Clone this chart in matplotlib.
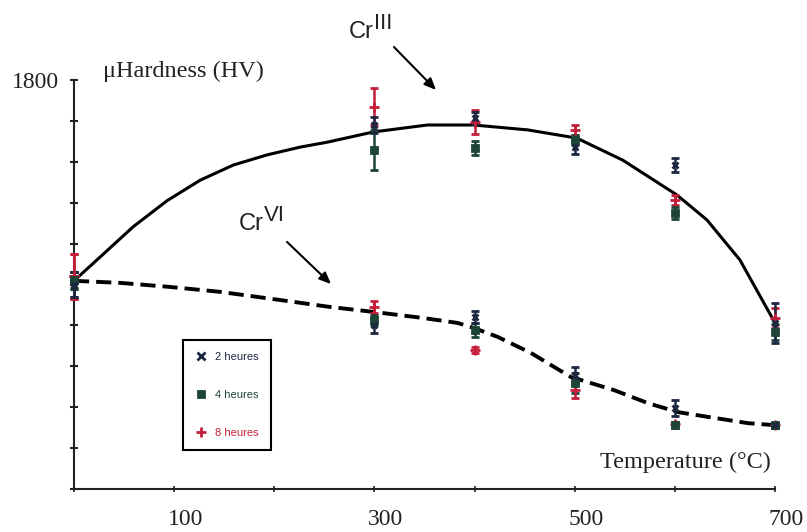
import matplotlib
matplotlib.use("Agg")
import matplotlib.pyplot as plt
from matplotlib.lines import Line2D
from matplotlib.transforms import ScaledTranslation

# temperatures (°C) where hardness was measured
temps = [0, 300, 400, 500, 600, 700]

# Cr III bath (HV) and error bars
cr3_2h = [1300, 1690, 1707, 1636, 1592, 1206]
cr3_2h_err = [30, 20, 14, 18, 17, 49]
cr3_4h = [1310, 1629, 1634, 1653, 1475, 1184]
cr3_4h_err = [20, 49, 18, 12, 15, 20]
cr3_8h = [1320, 1735, 1697, 1678, 1507, 1218]
cr3_8h_err = [55, 45, 29, 12, 12, 24]

# Cr VI bath (HV) and error bars
cr6_2h = [1300, 1201, 1220, 1079, 998, 956]
cr6_2h_err = [30, 20, 14, 20, 20, 6]
cr6_4h = [1310, 1213, 1189, 1059, 956, 956]
cr6_4h_err = [20, 12, 18, 24, 7, 6]
cr6_8h = [1320, 1245, 1140, 1042, 960, 956]
cr6_8h_err = [55, 14, 7, 20, 5, 6]

# trend curves
cr3_curve_t = [0, 26, 59, 93, 126, 159, 193, 226, 253, 299, 353, 399, 453, 502, 548, 602, 632, 665, 700]
cr3_curve_v = [1309, 1367, 1441, 1505, 1555, 1592, 1617, 1636, 1648, 1673, 1690, 1690, 1678, 1658, 1604, 1519, 1458, 1360, 1206]
cr6_curve_t = [0, 46, 96, 146, 206, 256, 299, 349, 383, 399, 423, 456, 496, 539, 573, 603, 639, 673, 700]
cr6_curve_v = [1309, 1304, 1294, 1282, 1262, 1245, 1233, 1218, 1206, 1194, 1172, 1133, 1074, 1042, 1010, 988, 974, 961, 956]

series_names = ["2 heures", "4 heures", "8 heures"]
series_colors = ["#1c2740", "#1d4536", "#c41e3a"]
series_markers = ["x", "s", "+"]

x_ticks = [0, 100, 200, 300, 400, 500, 600, 700]
x_labels = ["", "100", "", "300", "", "500", "", "700"]
y_ticks = [800, 900, 1000, 1100, 1200, 1300, 1400, 1500, 1600, 1700, 1800]
y_labels = ["", "", "", "", "", "", "", "", "", "", "1800"]

W, H = 807, 532
fig = plt.figure(figsize=(W / 100, H / 100), dpi=100)
ax = fig.add_axes([74 / W, 1 - 489 / H, (775 - 74) / W, (489 - 80) / H])


def fx(px):
    return px / W


def fy(py):
    return 1 - py / H


serif = "Liberation Serif"
sans = "Liberation Sans"
ink = "#222222"

# curves
ax.plot(cr3_curve_t, cr3_curve_v, color="black", lw=2.2, clip_on=False, zorder=3)
ax.plot(cr6_curve_t, cr6_curve_v, color="black", lw=2.8, dashes=(3.9, 1.8),
        clip_on=False, zorder=3)

# error bars (8h first so the dark ones sit on top)
groups = [
    (cr3_2h, cr3_2h_err, cr6_2h, cr6_2h_err),
    (cr3_4h, cr3_4h_err, cr6_4h, cr6_4h_err),
    (cr3_8h, cr3_8h_err, cr6_8h, cr6_8h_err),
]
sizes = {"x": 5, "s": 4.5, "+": 7}
for i in [2, 1, 0]:
    v3, e3, v6, e6 = groups[i]
    c = series_colors[i]
    m = series_markers[i]
    for vals, errs in [(v3, e3), (v6, e6)]:
        ax.errorbar(temps, vals, yerr=errs, fmt=m, color=c, ecolor=c,
                    ms=sizes[m], mew=2, elinewidth=1.8,
                    capsize=3, capthick=2.2, clip_on=False, zorder=4)

ax.set_xlim(0, 700)
ax.set_ylim(800, 1800)
ax.set_xticks(x_ticks)
ax.set_xticklabels([])
ax.set_yticks(y_ticks)
ax.set_yticklabels(y_labels, fontfamily=serif, fontsize=17, color=ink)

# x labels sit a little to the right of their ticks, as in the original
shift = ax.get_xaxis_transform() + ScaledTranslation(0.11, -0.20, fig.dpi_scale_trans)
for t, lab in zip(x_ticks, x_labels):
    ax.text(t, 0, lab, transform=shift, ha="center", va="top",
            fontfamily=serif, fontsize=17, color=ink)

for s in ["top", "right"]:
    ax.spines[s].set_visible(False)
for s in ["left", "bottom"]:
    ax.spines[s].set_linewidth(1.5)
    ax.spines[s].set_color(ink)
ax.tick_params(axis="y", direction="inout", length=6, width=1.5, pad=8, colors=ink)
ax.tick_params(axis="x", direction="inout", length=4, width=1.2, colors=ink)

# axis titles
fig.text(fx(103), fy(71), "\u03bcHardness (HV)", fontfamily=serif, fontsize=17.5,
         ha="left", va="center", color=ink)
fig.text(fx(771), fy(462), "Temperature (\u00b0C)", fontfamily=serif, fontsize=17.5,
         ha="right", va="center", color=ink)

# Cr labels with superscripts and arrows
for x0, base, sup in [(349, 38, "III"), (239, 230, "VI")]:
    cr = fig.text(fx(x0), fy(base), "Cr", fontfamily=sans, fontsize=17,
                  ha="left", va="baseline", color=ink)
    ax.annotate(sup, xy=(1.0, 0.42), xycoords=cr, ha="left", va="bottom",
                fontfamily=sans, fontsize=16, color=ink, annotation_clip=False)

arrow = dict(arrowstyle="-|>,head_length=0.7,head_width=0.3", color="black", lw=1.5)
ax.annotate("", xy=(fx(438), fy(92)), xytext=(fx(392), fy(45)),
            xycoords="figure fraction", textcoords="figure fraction", arrowprops=arrow)
ax.annotate("", xy=(fx(333), fy(286)), xytext=(fx(285), fy(240)),
            xycoords="figure fraction", textcoords="figure fraction", arrowprops=arrow)

# legend
handles = [Line2D([], [], linestyle="none", marker=m, color=c,
                  ms={"x": 6, "s": 4.5, "+": 7}[m], mew=2)
           for m, c in zip(series_markers, series_colors)]
leg = ax.legend(handles, series_names, loc="upper left",
                bbox_to_anchor=(fx(183), fy(340)), bbox_transform=fig.transFigure,
                borderaxespad=0, fancybox=False, framealpha=1, edgecolor="black",
                prop={"family": sans, "size": 8}, labelspacing=2.5,
                handlelength=1.0, handletextpad=0.8, borderpad=1.1)
leg.get_frame().set_linewidth(1.5)
for t, c in zip(leg.get_texts(), series_colors):
    t.set_color(c)

fig.savefig("out.png", dpi=100)
